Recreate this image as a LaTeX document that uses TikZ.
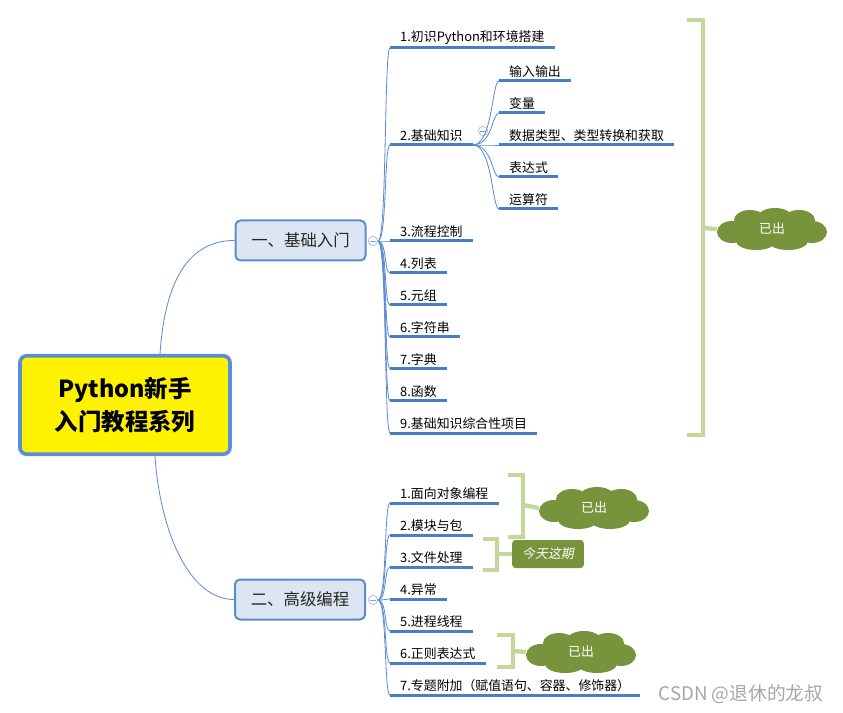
\documentclass[tikz,border=0pt]{standalone}
\usepackage{fontspec}
\setmainfont{Noto Sans CJK SC}
\newfontfamily\slantcjk[FakeSlant=0.2]{Noto Sans CJK SC}
\usetikzlibrary{positioning}
\definecolor{mblue}{HTML}{5B8BD0}
\definecolor{ublue}{HTML}{4A7EC4}
\definecolor{rblue}{HTML}{5A8ED6}
\definecolor{tfill}{HTML}{DCE6F2}
\definecolor{mgreen}{HTML}{C3D69B}
\definecolor{olive}{HTML}{77933C}
\tikzset{root/.style = {draw = rblue, line width = 0.11cm, fill = yellow, rounded corners = 0.2cm,
    minimum width = 6.3cm, minimum height = 2.95cm, align = center,
    font = \fontsize{20}{28}\selectfont\bfseries}}
\tikzset{topic/.style = {draw = mblue, line width = 0.06cm, fill = tfill, rounded corners = 0.15cm,
    minimum width = 3.9cm, minimum height = 1.2cm, text = black!85,
    font = \fontsize{14}{16}\selectfont}}
\tikzset{fold/.style = {circle, draw = mblue!60, fill = white, line width = 0.6pt,
    minimum size = 0.28cm, inner sep = 0,
    path picture = {\draw [mblue!80, line width = 0.5pt]
      ([xshift = -0.08cm]path picture bounding box.center) --
      ([xshift = 0.08cm]path picture bounding box.center);}}}
\tikzset{item/.style = {anchor = south west, inner xsep = 0.3cm, inner ysep = 0.1cm,
    font = \fontsize{11}{13}\selectfont}}
\tikzset{uline/.style = {ublue, line width = 0.09cm}}
\tikzset{link/.style = {mblue, line width = 0.7pt}}
\tikzset{brace/.style = {mgreen, line width = 0.13cm}}
\tikzset{puff/.style = {minimum width = 3.3cm, minimum height = 1.26cm, inner sep = 0,
    text = white, font = \fontsize{11}{13}\selectfont}}
\tikzset{tag/.style = {fill = olive, rounded corners = 0.1cm, minimum width = 2.15cm,
    minimum height = 0.84cm, text = white, font = \fontsize{11}{13}\slantcjk}}
\newcommand{\puffs}[1]{
  \fill [olive, shift = {(#1)}] (0, 0) circle [x radius = 38, y radius = 14]
    (-40, 3) circle [x radius = 15, y radius = 11]
    (-22, -9) circle [x radius = 16, y radius = 10]
    (3, -12) circle [x radius = 17, y radius = 9]
    (27, -9) circle [x radius = 16, y radius = 10]
    (40, 3) circle [x radius = 15, y radius = 11]
    (-16, 12) circle [x radius = 20, y radius = 9]
    (16, 12) circle [x radius = 20, y radius = 9];}

\begin{document}
\begin{tikzpicture}[x = 0.03cm, y = -0.03cm]
  \useasboundingbox (0, 0) rectangle (843, 713);
  \node [root] (root) at (125, 405) {Python新手\\入门教程系列};
  \node [topic] (b1) at (300.5, 240.5) {一、基础入门};
  \node [topic] (b2) at (300, 599.5) {二、高级编程};
  \node [fold] (b1o) at (373, 241) {};
  \node [fold] (b2o) at (373, 600) {};
  \draw [link] ([xshift = 1.05cm]root.north) .. controls +(5, -75) and +(-45, 0) .. (b1.west);
  \draw [link] ([xshift = 0.9cm]root.south) .. controls +(5, 75) and +(-45, 0) .. (b2.west);

  \foreach \i/\yy/\t in {1/48/{1.初识Python和环境搭建}, 2/145/{2.基础知识}, 3/241/{3.流程控制},
      4/273/{4.列表}, 5/305/{5.元组}, 6/337/{6.字符串}, 7/369/{7.字典}, 8/401/{8.函数},
      9/433/{9.基础知识综合性项目}}
  {
    \node [item] (a\i) at (390, \yy) {\t};
    \draw [uline] (a\i.south west) -- (a\i.south east);
    \draw [link] (b1o.east) .. controls +(9, 0) and +(-6, 0) .. (a\i.south west);
  }
  \node [fold] (a2o) at (483, 131) {};
  \foreach \i/\yy/\t in {1/81/输入输出, 2/113/变量, 3/145/{数据类型、类型转换和获取},
      4/177/表达式, 5/209/运算符}
  {
    \node [item] (s\i) at (499, \yy) {\t};
    \draw [uline] (s\i.south west) -- (s\i.south east);
    \draw [link] (a2.south east) .. controls +(20, 0) and +(-7, 0) .. (s\i.south west);
  }

  \foreach \i/\yy/\t in {1/503/{1.面向对象编程}, 2/535/{2.模块与包}, 3/567/{3.文件处理},
      4/599/{4.异常}, 5/631/{5.进程线程}, 6/663/{6.正则表达式},
      7/695/{7.专题附加（赋值语句、容器、修饰器）}}
  {
    \node [item] (c\i) at (390, \yy) {\t};
    \draw [uline] (c\i.south west) -- (c\i.south east);
    \draw [link] (b2o.east) .. controls +(9, 0) and +(-6, 0) .. (c\i.south west);
  }

  \puffs{772, 229}
  \node [puff] (done1) at (772, 229) {已出};
  \draw [brace] (687, 20) -- (703, 20) -- (703, 435) -- (687, 435);
  \coordinate (k1) at (703, 228);
  \draw [brace] (k1) -- (done1.west);

  \puffs{594, 508}
  \node [puff] (done2) at (594, 508) {已出};
  \draw [brace] (508, 475) -- (523, 475) -- (523, 537) -- (508, 537);
  \coordinate (k2) at (523, 505);
  \draw [brace] (k2) -- (done2.west);

  \node [tag] (today) at (548, 554) {今天这期};
  \draw [brace] (483, 539) -- (497, 539) -- (497, 570) -- (483, 570);
  \coordinate (k3) at (497, 554);
  \draw [brace] (k3) -- (today.west);

  \puffs{581, 652}
  \node [puff] (done3) at (581, 652) {已出};
  \draw [brace] (497, 635) -- (513, 635) -- (513, 667) -- (497, 667);
  \coordinate (k4) at (513, 651);
  \draw [brace] (k4) -- (done3.west);

  \node [text = black!35, font = \fontsize{16}{18}\selectfont] (mark) at (741, 694) {CSDN @退休的龙叔};
\end{tikzpicture}
\end{document}
